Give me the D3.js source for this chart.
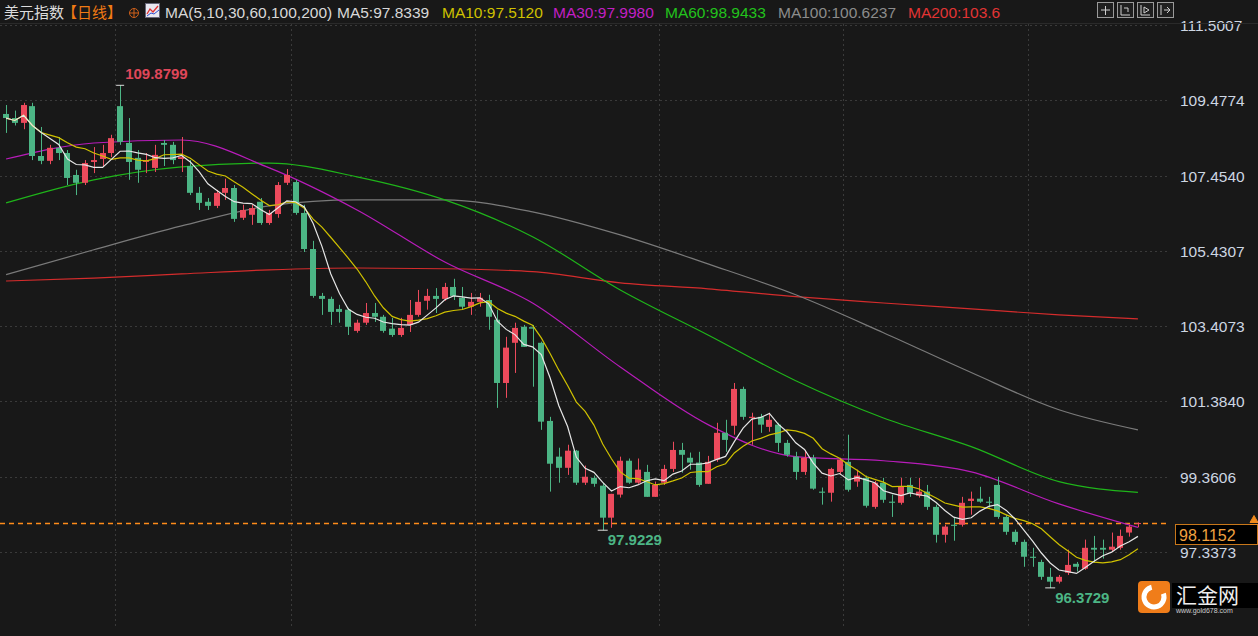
<!DOCTYPE html>
<html>
<head>
<meta charset="utf-8">
<script src="https://cdn.jsdelivr.net/npm/d3@7/dist/d3.min.js"></script>
<style>
  body { margin: 0; background: #181818; overflow: hidden; }
  svg { display: block; font-family: "Noto Sans CJK SC", "Liberation Sans", sans-serif; }
</style>
</head>
<body>
<svg id="chart" width="1258" height="636"></svg>
<script>
// daily candles [open, high, low, close]
var candles = [
  [109.11,109.35,108.60,109.00],[109.00,109.20,108.80,108.87],[108.87,109.41,108.70,109.35],[109.32,109.41,107.87,107.98],
  [107.98,108.76,107.76,107.85],[107.85,108.28,107.76,108.20],[108.20,108.49,107.87,108.06],[108.06,108.14,107.20,107.39],
  [107.47,107.61,106.93,107.26],[107.26,107.87,107.20,107.79],[107.82,108.22,107.52,107.87],[107.90,108.28,107.69,108.06],
  [108.06,108.55,107.95,108.46],[109.32,109.88,108.28,108.36],[108.33,109.00,107.34,107.82],[107.93,108.14,107.26,107.61],
  [107.82,108.06,107.52,107.87],[107.66,108.28,107.55,108.01],[108.33,108.41,107.71,108.28],[108.28,108.36,107.76,107.87],
  [107.90,108.49,107.55,107.95],[107.71,107.87,106.93,106.99],[106.99,107.15,106.53,106.72],[106.75,106.85,106.53,106.64],
  [106.64,107.07,106.58,106.99],[106.99,107.37,106.80,107.12],[107.12,107.20,106.21,106.29],[106.32,106.67,106.26,106.53],
  [106.40,106.67,106.13,106.58],[106.75,106.85,106.13,106.18],[106.18,106.53,106.13,106.45],[106.42,107.28,106.32,107.20],
  [107.26,107.63,107.20,107.47],[107.28,107.34,106.40,106.45],[106.45,106.67,105.40,105.48],[105.48,105.70,104.17,104.22],
  [104.22,104.30,103.71,104.14],[104.14,104.20,103.44,103.79],[103.87,103.98,103.50,103.79],[103.85,103.90,103.17,103.39],
  [103.28,103.58,103.23,103.50],[103.50,104.03,103.44,103.76],[103.76,104.03,103.52,103.66],[103.66,103.71,103.23,103.28],
  [103.34,103.63,103.12,103.17],[103.17,103.63,103.12,103.36],[103.44,104.11,103.25,103.71],[103.71,104.38,103.66,104.06],
  [104.09,104.41,103.85,104.22],[104.22,104.43,103.76,104.14],[104.14,104.57,104.09,104.46],[104.46,104.68,104.11,104.22],
  [104.17,104.46,103.85,103.93],[103.93,104.30,103.71,104.06],[104.06,104.30,103.93,104.17],[104.11,104.25,103.31,103.66],
  [103.58,103.85,101.21,101.88],[101.88,103.12,101.48,102.83],[102.96,103.50,102.15,103.36],[103.39,103.44,102.85,102.85],
  [103.38,103.44,101.78,103.34],[102.96,102.99,100.62,100.84],[100.86,100.97,98.96,99.71],[99.90,100.14,99.20,99.60],
  [99.60,100.22,99.41,100.06],[100.06,100.08,99.14,99.20],[99.20,99.66,99.14,99.36],[99.33,99.39,99.09,99.17],
  [99.12,99.20,97.92,98.26],[98.26,98.90,97.99,98.90],[98.88,99.90,98.80,99.79],[99.79,99.85,99.17,99.20],
  [99.20,99.85,99.17,99.55],[99.49,99.68,98.82,98.82],[98.82,99.23,98.82,99.14],[99.20,99.68,99.14,99.57],
  [99.57,100.30,99.49,100.08],[100.08,100.27,99.47,99.95],[99.87,100.01,99.55,99.74],[99.74,100.03,99.09,99.14],
  [99.17,99.92,99.17,99.76],[99.82,100.81,99.76,100.54],[100.54,100.89,100.03,100.35],[100.73,101.88,100.49,101.72],
  [101.72,101.78,100.89,100.97],[100.94,101.08,100.22,100.97],[100.97,101.05,100.54,100.76],[100.70,101.08,100.57,100.89],
  [100.76,100.81,100.03,100.27],[100.27,100.35,99.90,99.95],[99.90,100.03,99.28,99.49],[99.49,100.08,99.41,99.87],
  [99.87,99.95,99.01,99.04],[98.96,99.07,98.61,98.93],[98.93,99.60,98.69,99.57],[99.49,99.87,99.44,99.82],
  [99.76,100.49,98.96,99.01],[99.23,99.55,99.09,99.39],[99.33,99.39,98.53,98.58],[98.55,99.25,98.50,99.20],
  [99.20,99.33,98.66,98.74],[98.69,98.88,98.28,98.66],[98.66,99.33,98.61,99.09],[99.14,99.33,98.82,98.93],
  [98.85,99.33,98.80,98.96],[98.96,99.14,98.47,98.55],[98.55,98.61,97.59,97.80],[97.80,98.07,97.59,98.02],
  [98.07,98.28,97.64,98.04],[98.07,98.82,98.02,98.66],[98.71,98.96,98.34,98.77],[98.77,99.09,98.66,98.69],
  [98.69,98.82,98.53,98.66],[99.14,99.36,98.23,98.28],[98.28,98.34,97.80,97.88],[97.88,97.94,97.53,97.61],
  [97.61,97.67,96.94,97.21],[97.21,97.45,96.94,97.18],[97.07,97.13,96.59,96.67],[96.67,96.91,96.37,96.54],
  [96.54,96.72,96.49,96.67],[96.78,97.40,96.72,96.99],[97.02,97.07,96.81,96.94],[96.89,97.67,96.86,97.45],
  [97.45,97.77,97.05,97.40],[97.45,97.67,97.16,97.40],[97.40,97.86,97.34,97.48],[97.45,97.94,97.40,97.77],
  [97.86,98.07,97.75,98.02],[98.10,98.13,98.00,98.1152]
];

// long moving averages, every 10th candle (last point = last candle)
var maIdx = [0, 10, 20, 30, 40, 50, 60, 70, 80, 90, 100, 110, 120, 129];
var ma30 = [107.90,108.33,108.41,107.66,106.53,105.13,104.03,102.31,100.76,99.90,99.79,99.49,98.63,97.998];
var ma60 = [106.72,107.34,107.69,107.79,107.42,106.80,105.81,104.38,103.17,101.94,100.94,100.17,99.23,98.94];
var ma100 = [104.79,105.46,106.10,106.64,106.80,106.80,106.48,105.86,105.08,104.25,103.23,102.16,101.16,100.62];
var ma200 = [104.62,104.70,104.81,104.92,104.97,104.95,104.87,104.57,104.41,104.20,104.03,103.87,103.71,103.60];

var yTicks = [111.5007, 109.4774, 107.4540, 105.4307, 103.4073, 101.3840, 99.3606, 97.3373];
var lastPrice = 98.1152;
var hiLabel = { i: 13, v: 109.8799 }, loLabels = [{ i: 68, v: 97.9229 }, { i: 119, v: 96.3729 }];
var vGridAt = [13, 33, 54, 75, 96, 117];

var legend = [
  { t: "MA(5,10,30,60,100,200)", c: "#d8d8d8", x: 165 },
  { t: "MA5:97.8339", c: "#d8d8d8", x: 337 },
  { t: "MA10:97.5120", c: "#cfc100", x: 442 },
  { t: "MA30:97.9980", c: "#c21fc4", x: 553 },
  { t: "MA60:98.9433", c: "#22c31c", x: 665 },
  { t: "MA100:100.6237", c: "#8c8c8c", x: 778 },
  { t: "MA200:103.6", c: "#e23434", x: 908 }
];

var svg = d3.select("#chart");
var W = 1258, plotR = 1168;
var up = "#ec4a5c", down = "#4cb585";
var numFont = "Liberation Sans, Arial, sans-serif";

var x = d3.scaleBand().domain(d3.range(candles.length)).range([3, 1141]).paddingInner(0.3);
var xc = function (i) { return x(i) + x.bandwidth() / 2; };
var y = d3.scaleLinear().domain([97.3373, 111.5007]).range([552, 25]);

svg.append("rect").attr("width", W).attr("height", 636).attr("fill", "#181818");

// grid
svg.append("g").selectAll("line").data(yTicks).enter().append("line")
    .attr("x1", 0).attr("x2", plotR).attr("y1", function (d) { return Math.round(y(d)) + 0.5; })
    .attr("y2", function (d) { return Math.round(y(d)) + 0.5; })
    .attr("stroke", "#3a3a3a").attr("stroke-dasharray", "2,3");
svg.append("g").selectAll("line").data(vGridAt).enter().append("line")
    .attr("x1", function (d) { return Math.round(x(d) - 2) + 0.5; })
    .attr("x2", function (d) { return Math.round(x(d) - 2) + 0.5; })
    .attr("y1", 24).attr("y2", 626)
    .attr("stroke", "#3a3a3a").attr("stroke-dasharray", "2,3");

// axis labels
svg.append("g").selectAll("text").data(yTicks).enter().append("text")
    .attr("x", 1180).attr("y", function (d) { return y(d) + 6; })
    .attr("fill", "#cdd6e2").attr("font-size", 15.5).attr("font-family", numFont)
    .text(function (d) { return d.toFixed(4); });

// moving averages
function maN(n) {
    return candles.map(function (d, i) {
        var s = candles.slice(Math.max(0, i - n + 1), i + 1);
        return d3.mean(s, function (c) { return c[3]; });
    });
}
var line = d3.line().x(function (d) { return xc(d[0]); }).y(function (d) { return y(d[1]); });
var smooth = d3.line().curve(d3.curveMonotoneX).x(function (d) { return xc(d[0]); }).y(function (d) { return y(d[1]); });

// last price line (under the marks)
var py = Math.round(y(lastPrice)) + 0.5;
svg.append("line").attr("x1", 0).attr("x2", plotR).attr("y1", py).attr("y2", py)
    .attr("stroke", "#ff8c1a").attr("stroke-width", 1.3).attr("stroke-dasharray", "5,4");

[[ma200, "#d42c2c"], [ma100, "#7a7a7a"], [ma60, "#1fb51a"], [ma30, "#b81cba"]].forEach(function (m) {
    svg.append("path").datum(maIdx.map(function (i, k) { return [i, m[0][k]]; }))
        .attr("d", smooth).attr("fill", "none").attr("stroke", m[1]).attr("stroke-width", 1.2);
});

// candles
var g = svg.append("g");
g.selectAll("line.wick").data(candles).enter().append("line")
    .attr("x1", function (d, i) { return Math.round(xc(i)) + 0.5; })
    .attr("x2", function (d, i) { return Math.round(xc(i)) + 0.5; })
    .attr("y1", function (d) { return y(d[1]); }).attr("y2", function (d) { return y(d[2]); })
    .attr("stroke", function (d) { return d[3] >= d[0] ? up : down; });
g.selectAll("rect").data(candles).enter().append("rect")
    .attr("x", function (d, i) { return Math.round(x(i)); })
    .attr("width", Math.round(x.bandwidth()))
    .attr("y", function (d) { return y(Math.max(d[0], d[3])); })
    .attr("height", function (d) { return Math.max(1, Math.abs(y(d[0]) - y(d[3]))); })
    .attr("fill", function (d) { return d[3] >= d[0] ? up : down; });

[[maN(10), "#cfc100"], [maN(5), "#e6e6e6"]].forEach(function (m) {
    svg.append("path").datum(m[0].map(function (v, i) { return [i, v]; }))
        .attr("d", line).attr("fill", "none").attr("stroke", m[1]).attr("stroke-width", 1.2);
});

// extremes
var hx = xc(hiLabel.i), hy = y(hiLabel.v);
svg.append("line").attr("x1", hx - 4).attr("x2", hx + 4).attr("y1", hy).attr("y2", hy).attr("stroke", "#ddd");
svg.append("text").attr("x", hx + 5).attr("y", hy - 6).attr("fill", "#e0475a").attr("font-size", 15)
    .attr("font-weight", "bold").attr("font-family", numFont).text(hiLabel.v.toFixed(4));
loLabels.forEach(function (l) {
    var lx = xc(l.i), ly = y(l.v);
    svg.append("line").attr("x1", lx - 5).attr("x2", lx + 5).attr("y1", ly).attr("y2", ly).attr("stroke", "#ddd");
    svg.append("text").attr("x", lx + 5).attr("y", ly + 15).attr("fill", "#4cb585").attr("font-size", 15)
        .attr("font-weight", "bold").attr("font-family", numFont).text(l.v.toFixed(4));
});

// last price label
svg.append("rect").attr("x", 1175.5).attr("y", py + 1).attr("width", 82).attr("height", 20)
    .attr("fill", "#000").attr("stroke", "#c8771a");
svg.append("text").attr("x", 1179).attr("y", py + 17).attr("fill", "#f0a040").attr("font-size", 16)
    .attr("font-family", numFont).text(lastPrice.toFixed(4));
svg.append("path").attr("d", "M1250," + (py - 1) + " l4,-7 l4,7 z M1250," + (py + 1) + " h8").attr("fill", "#f08a1c").attr("stroke", "#f08a1c");

// header
svg.append("line").attr("x1", 0).attr("x2", W).attr("y1", 23.5).attr("y2", 23.5).attr("stroke", "#2a2a2a");
svg.append("text").attr("x", 4).attr("y", 18).attr("fill", "#dcdcdc").attr("font-size", 15).text("美元指数");
svg.append("text").attr("x", 62).attr("y", 18).attr("fill", "#f07a14").attr("font-size", 15).text("【日线】");
svg.append("circle").attr("cx", 134).attr("cy", 13).attr("r", 4.5).attr("fill", "none").attr("stroke", "#d0601a");
svg.append("path").attr("d", "M129.5,13 h9 M134,8.5 v9").attr("stroke", "#d0601a");
svg.append("rect").attr("x", 145.5).attr("y", 3.5).attr("width", 14).attr("height", 14).attr("fill", "#e8e8f0").attr("stroke", "#667");
svg.append("path").attr("d", "M147,14 l3,-5 l3,3 l5,-6").attr("fill", "none").attr("stroke", "#e03030").attr("stroke-width", 1.3);
svg.append("path").attr("d", "M147,16 l4,-3 l3,1 l5,-4").attr("fill", "none").attr("stroke", "#3050d0").attr("stroke-width", 1);
svg.append("g").selectAll("text").data(legend).enter().append("text")
    .attr("x", function (d) { return d.x; }).attr("y", 18).attr("fill", function (d) { return d.c; })
    .attr("font-size", 15.5).attr("font-family", numFont).text(function (d) { return d.t; });

// toolbar buttons
[1097, 1117, 1137, 1157].forEach(function (bx, k) {
    svg.append("rect").attr("x", bx + 0.5).attr("y", 2.5).attr("width", 16).attr("height", 15)
        .attr("fill", "#202020").attr("stroke", "#9a9a9a");
    var p = ["M" + (bx + 4) + ",10 h9 M" + (bx + 8.5) + ",6 v9",
             "M" + (bx + 4) + ",5 v10 h9 M" + (bx + 7) + ",8 h4 v4",
             "M" + (bx + 4) + ",5 v10 h9 M" + (bx + 7) + ",7 l5,3 l-5,3 z",
             "M" + (bx + 4) + ",5 v10 M" + (bx + 7) + ",10 h6 M" + (bx + 10) + ",7 l3,3 l-3,3"][k];
    svg.append("path").attr("d", p).attr("fill", "none").attr("stroke", "#cfcfcf");
});

// watermark logo
svg.append("rect").attr("x", 1138).attr("y", 581).attr("width", 32).attr("height", 32).attr("rx", 4).attr("fill", "#f07d1a");
svg.append("circle").attr("cx", 1154).attr("cy", 597).attr("r", 10).attr("fill", "none").attr("stroke", "#fff").attr("stroke-width", 5)
    .attr("stroke-dasharray", "48,15").attr("transform", "rotate(-20,1154,597)");
svg.append("rect").attr("x", 1172).attr("y", 583).attr("width", 86).attr("height", 25).attr("fill", "#000");
svg.append("text").attr("x", 1176).attr("y", 603).attr("fill", "#eee").attr("font-size", 21).text("汇金网");
svg.append("text").attr("x", 1176).attr("y", 613).attr("fill", "#ccc").attr("font-size", 7)
    .attr("font-family", numFont).text("www.gold678.com");
</script>
</body>
</html>
